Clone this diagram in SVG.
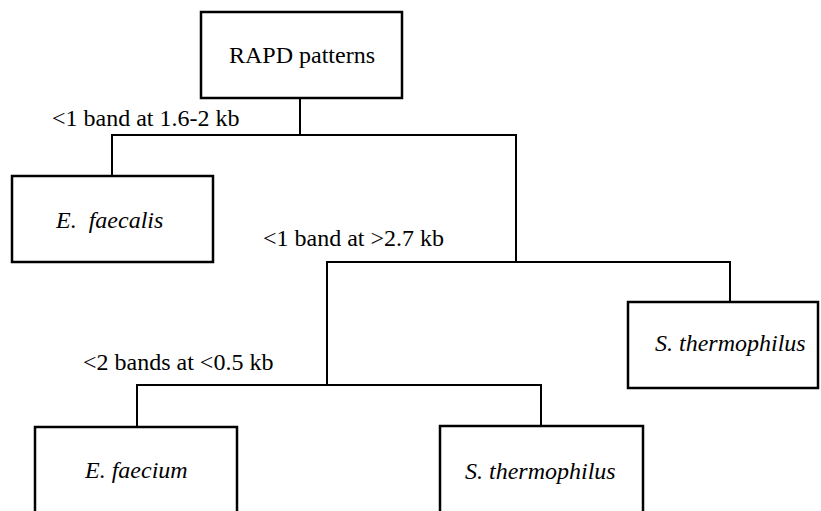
<svg xmlns="http://www.w3.org/2000/svg" width="821" height="511" viewBox="0 0 821 511">
<style>
.box{fill:#fff;stroke:#000;stroke-width:2.5}
.ln{fill:none;stroke:#000;stroke-width:2}
.t{font-family:'Liberation Serif','Times New Roman',Tinos,'DejaVu Serif',serif;font-size:24px;fill:#000}
.i{font-style:italic}
</style>
<rect width="821" height="511" fill="#fff"/>
<g id="connectors">
<path class="ln" d="M300,98 V135"/>
<path class="ln" d="M112,176 V135 H516 V262"/>
<path class="ln" d="M327,385 V262 H730 V302"/>
<path class="ln" d="M137,426 V385 H541 V426"/>
</g>
<g id="labels">
<text class="t" x="52" y="126">&lt;1 band at 1.6-2 kb</text>
<text class="t" x="263" y="246">&lt;1 band at &gt;2.7 kb</text>
<text class="t" x="83" y="370">&lt;2 bands at &lt;0.5 kb</text>
</g>
<g id="root">
<rect class="box" x="201" y="12" width="201" height="86"/>
<text class="t" x="302" y="63" text-anchor="middle">RAPD patterns</text>
</g>
<g id="efaecalis">
<rect class="box" x="12" y="176" width="201" height="86"/>
<text class="t i" x="56" y="228" xml:space="preserve">E.  faecalis</text>
</g>
<g id="sthermo1">
<rect class="box" x="628" y="302" width="190" height="86"/>
<text class="t i" x="655" y="351">S. thermophilus</text>
</g>
<g id="efaecium">
<rect class="box" x="35" y="427" width="202" height="100"/>
<text class="t i" x="85" y="478">E. faecium</text>
</g>
<g id="sthermo2">
<rect class="box" x="440" y="426" width="203" height="100"/>
<text class="t i" x="465" y="479">S. thermophilus</text>
</g>
</svg>
